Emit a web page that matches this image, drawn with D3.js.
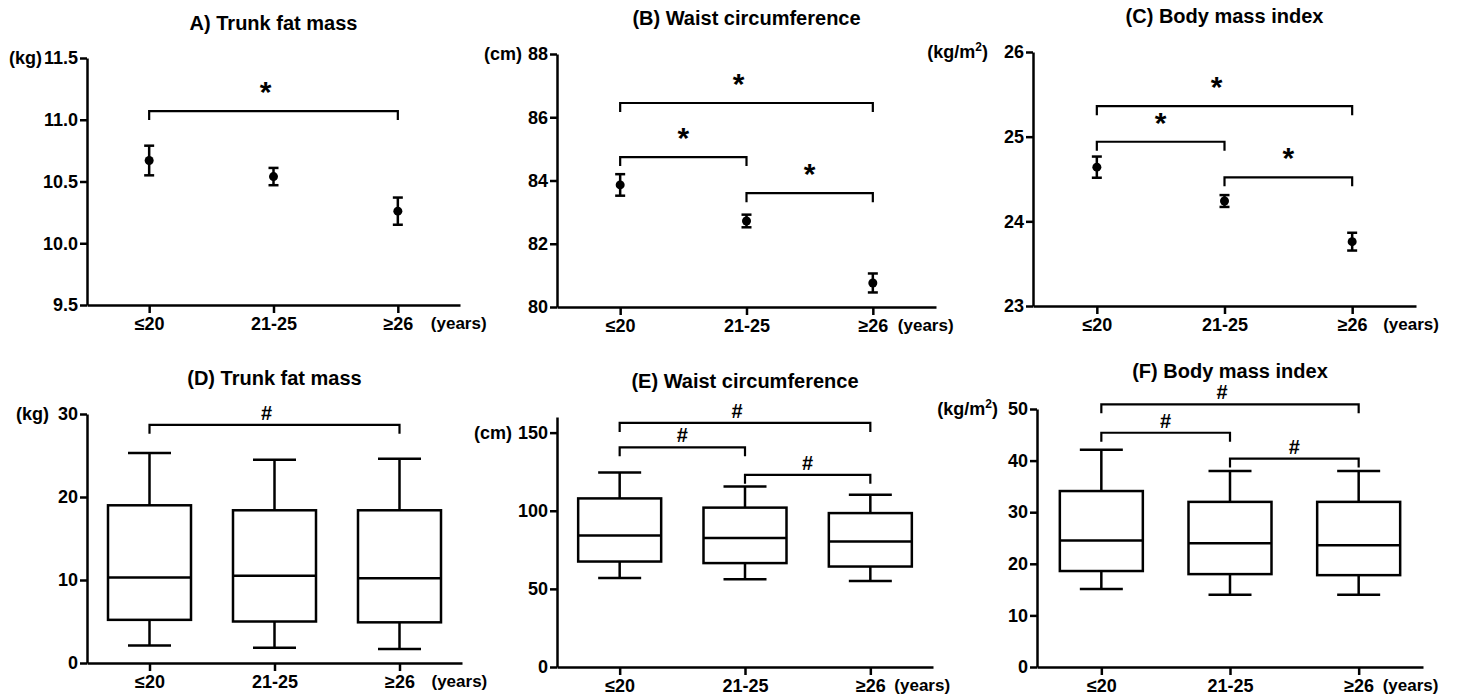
<!DOCTYPE html>
<html>
<head>
<meta charset="utf-8">
<script src="https://cdn.jsdelivr.net/npm/d3@7"></script>
<style>
  body { margin: 0; background: #fff; }
  svg { display: block; font-family: "Liberation Sans", Arial, sans-serif; }
  .axis path, .axis line { stroke: #000; stroke-width: 2.5; }
  .axis text { font-size: 18px; font-weight: bold; fill: #000; }
</style>
</head>
<body>
<svg id="chart" width="1460" height="696"></svg>
<script>
// age groups
var groups = ["≤20", "21-25", "≥26"];

// top row: mean and SE
var tfmMean = [10.67, 10.54, 10.26];
var tfmErr = [0.12, 0.07, 0.11];
var wcMean = [83.86, 82.72, 80.76];
var wcErr = [0.34, 0.2, 0.3];
var bmiMean = [24.64, 24.24, 23.76];
var bmiErr = [0.125, 0.07, 0.105];

// bottom row: [min, q1, median, q3, max]
var tfmBox = [[2.1, 5.2, 10.3, 19.0, 25.3], [1.85, 5.0, 10.5, 18.4, 24.5], [1.7, 4.9, 10.2, 18.4, 24.6]];
var wcBox = [[57, 67.5, 84.2, 107.9, 124.5], [56.2, 66.5, 82.5, 102, 115.6], [55.1, 64.3, 80.3, 98.5, 110.3]];
var bmiBox = [[15.1, 18.6, 24.5, 34.1, 42.1], [14, 18, 24, 32, 38], [14, 17.8, 23.6, 32, 38]];

// y ticks
var tfmTicks = [9.5, 10.0, 10.5, 11.0, 11.5];
var wcTicks = [80, 82, 84, 86, 88];
var bmiTicks = [23, 24, 25, 26];
var tfmBoxTicks = [0, 10, 20, 30];
var wcBoxTicks = [0, 50, 100, 150];
var bmiBoxTicks = [0, 10, 20, 30, 40, 50];

// significance brackets: [from group, to group, level]
var tfmSig = [[0, 2, 11.07]];
var wcSig = [[0, 2, 86.45], [0, 1, 84.74], [1, 2, 83.6]];
var bmiSig = [[0, 2, 25.36], [0, 1, 24.94], [1, 2, 24.52]];
var tfmBoxSig = [[0, 2, 28.7]];
var wcBoxSig = [[0, 2, 156.2], [0, 1, 140.6], [1, 2, 123]];
var bmiBoxSig = [[0, 2, 50.9], [0, 1, 45.4], [1, 2, 40.4]];

var svg = d3.select("#chart");

var panels = [
	{title: "A) Trunk fat mass", unit: "(kg)", kind: "mean", mean: tfmMean, err: tfmErr, ticks: tfmTicks, fmt: ".1f",
	 domain: [9.5, 11.5], sig: tfmSig, mark: "*", left: 87, right: 460, top: 58, bottom: 305, titleY: 30, unitX: 42, yearsDx: 33},
	{title: "(B) Waist circumference", unit: "(cm)", kind: "mean", mean: wcMean, err: wcErr, ticks: wcTicks, fmt: "d",
	 domain: [80, 88], sig: wcSig, mark: "*", left: 557, right: 936, top: 54, bottom: 307, titleY: 25, unitX: 522, yearsDx: 25},
	{title: "(C)  Body mass index", unit: "m2", kind: "mean", mean: bmiMean, err: bmiErr, ticks: bmiTicks, fmt: "d",
	 domain: [23, 26], sig: bmiSig, mark: "*", left: 1033, right: 1416, top: 52, bottom: 306, titleY: 23, unitX: 988, yearsDx: 31},
	{title: "(D)  Trunk fat mass", unit: "(kg)", kind: "box", box: tfmBox, ticks: tfmBoxTicks, fmt: "d",
	 domain: [0, 30], sig: tfmBoxSig, mark: "#", left: 87, right: 462, top: 414, bottom: 663, titleY: 385, unitX: 49, yearsDx: 32},
	{title: "(E)  Waist circumference", unit: "(cm)", kind: "box", box: wcBox, ticks: wcBoxTicks, fmt: "d",
	 domain: [0, 160], sig: wcBoxSig, mark: "#", left: 557, right: 933, top: 417, bottom: 667, titleY: 388, unitX: 512, yearsDx: 24},
	{title: "(F)  Body mass index", unit: "m2", kind: "box", box: bmiBox, ticks: bmiBoxTicks, fmt: "d",
	 domain: [0, 50], sig: bmiBoxSig, mark: "#", left: 1037, right: 1423, top: 409, bottom: 667, titleY: 378, unitX: 998, yearsDx: 24}
];

panels.forEach(function(p) {
	var g = svg.append("g");
	var x = d3.scalePoint().domain(groups).range([p.left, p.right]).padding(0.5);
	var y = d3.scaleLinear().domain(p.domain).range([p.bottom, p.top]);

	// title
	g.append("text")
		.attr("x", (p.left + p.right) / 2)
		.attr("y", p.titleY)
		.attr("text-anchor", "middle")
		.style("font-size", "20px")
		.style("font-weight", "bold")
		.text(p.title);

	// axes
	g.append("g")
		.attr("class", "axis")
		.attr("transform", "translate(" + p.left + ",0)")
		.call(d3.axisLeft(y).tickValues(p.ticks).tickFormat(d3.format(p.fmt)).tickSize(7).tickSizeOuter(0).tickPadding(2));

	g.append("g")
		.attr("class", "axis")
		.attr("transform", "translate(0," + p.bottom + ")")
		.call(d3.axisBottom(x).tickSize(8).tickSizeOuter(0).tickPadding(4));

	// unit label
	var u = g.append("text")
		.attr("x", p.unitX)
		.attr("y", y(p.ticks[p.ticks.length - 1]) + 6)
		.attr("text-anchor", "end")
		.style("font-size", "18px")
		.style("font-weight", "bold");
	if (p.unit == "m2") {
		u.append("tspan").text("(kg/m");
		u.append("tspan").attr("dy", -7).style("font-size", "12px").text("2");
		u.append("tspan").attr("dy", 7).text(")");
	} else {
		u.text(p.unit);
	}

	g.append("text")
		.attr("x", x(groups[2]) + p.yearsDx)
		.attr("y", p.bottom + 24)
		.style("font-size", "17px")
		.style("font-weight", "bold")
		.text("(years)");

	if (p.kind == "mean") {
		var pts = g.selectAll("g.pt")
			.data(groups)
			.enter().append("g")
			.attr("class", "pt");
		pts.append("line")
			.attr("x1", function(d) { return x(d); })
			.attr("x2", function(d) { return x(d); })
			.attr("y1", function(d, i) { return y(p.mean[i] - p.err[i]); })
			.attr("y2", function(d, i) { return y(p.mean[i] + p.err[i]); })
			.style("stroke", "#000").style("stroke-width", 2.5);
		[-1, 1].forEach(function(s) {
			pts.append("line")
				.attr("x1", function(d) { return x(d) - 5; })
				.attr("x2", function(d) { return x(d) + 5; })
				.attr("y1", function(d, i) { return y(p.mean[i] + s * p.err[i]); })
				.attr("y2", function(d, i) { return y(p.mean[i] + s * p.err[i]); })
				.style("stroke", "#000").style("stroke-width", 2.5);
		});
		pts.append("circle")
			.attr("cx", function(d) { return x(d); })
			.attr("cy", function(d, i) { return y(p.mean[i]); })
			.attr("r", 4.5)
			.style("fill", "#000");
	} else {
		var bw = 83, cw = 43;
		var bx = g.selectAll("g.box")
			.data(p.box)
			.enter().append("g")
			.attr("class", "box")
			.style("stroke", "#000")
			.style("stroke-width", 2.5)
			.style("fill", "none");
		bx.append("rect")
			.attr("x", function(d, i) { return x(groups[i]) - bw / 2; })
			.attr("width", bw)
			.attr("y", function(d) { return y(d[3]); })
			.attr("height", function(d) { return y(d[1]) - y(d[3]); });
		bx.append("line")
			.attr("x1", function(d, i) { return x(groups[i]) - bw / 2; })
			.attr("x2", function(d, i) { return x(groups[i]) + bw / 2; })
			.attr("y1", function(d) { return y(d[2]); })
			.attr("y2", function(d) { return y(d[2]); });
		// whiskers
		[[3, 4], [1, 0]].forEach(function(w) {
			bx.append("line")
				.attr("x1", function(d, i) { return x(groups[i]); })
				.attr("x2", function(d, i) { return x(groups[i]); })
				.attr("y1", function(d) { return y(d[w[0]]); })
				.attr("y2", function(d) { return y(d[w[1]]); });
			bx.append("line")
				.attr("x1", function(d, i) { return x(groups[i]) - cw / 2; })
				.attr("x2", function(d, i) { return x(groups[i]) + cw / 2; })
				.attr("y1", function(d) { return y(d[w[1]]); })
				.attr("y2", function(d) { return y(d[w[1]]); });
		});
	}

	/* ------- SIGNIFICANCE BRACKETS -------*/
	var br = g.selectAll("g.sig")
		.data(p.sig)
		.enter().append("g")
		.attr("class", "sig");
	br.append("path")
		.attr("d", function(d) {
			var x1 = x(groups[d[0]]), x2 = x(groups[d[1]]), yy = y(d[2]);
			return "M" + x1 + "," + (yy + 9) + "V" + yy + "H" + x2 + "V" + (yy + 9);
		})
		.style("fill", "none")
		.style("stroke", "#000")
		.style("stroke-width", 2.2);
	br.append("text")
		.attr("x", function(d) { return (x(groups[d[0]]) + x(groups[d[1]])) / 2 - (d[1] - d[0] == 2 ? 8 : 0); })
		.attr("y", function(d) { return y(d[2]) - (p.mark == "*" ? 9 : 5); })
		.attr("text-anchor", "middle")
		.style("font-size", p.mark == "*" ? "30px" : "20px")
		.style("font-weight", "bold")
		.text(p.mark);
});
</script>
</body>
</html>
